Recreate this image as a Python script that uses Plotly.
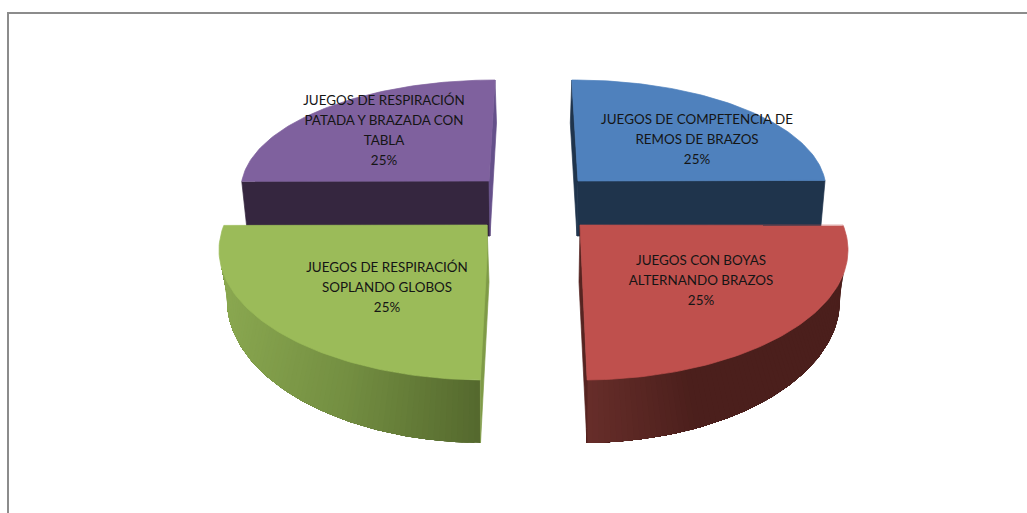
import numpy as np
import plotly.graph_objects as go

# ---------- data ----------
categories = [
    "JUEGOS DE COMPETENCIA DE REMOS DE BRAZOS",
    "JUEGOS CON BOYAS ALTERNANDO BRAZOS",
    "JUEGOS DE RESPIRACIÓN SOPLANDO GLOBOS",
    "JUEGOS DE RESPIRACIÓN PATADA Y BRAZADA CON TABLA",
]
label_lines = [
    ["JUEGOS DE COMPETENCIA DE", "REMOS DE BRAZOS"],
    ["JUEGOS CON BOYAS", "ALTERNANDO BRAZOS"],
    ["JUEGOS DE RESPIRACIÓN", "SOPLANDO GLOBOS"],
    ["JUEGOS DE RESPIRACIÓN", "PATADA Y BRAZADA CON", "TABLA"],
]
shares = [25, 25, 25, 25]

# ---------- drawing style: the projection of each exploded slice ----------
W, H = 1027, 513
FONT = "Lato"
FONT_SIZE = 13.4
LINE_STEP = 20
top_colors = ["#4F81BD", "#BF504D", "#9BBB59", "#7F619E"]
side_colors = ["#1F344C", "#4B1F1D", "#7F9B47", "#35263F"]
strip_colors = ["#1F344C", "#562421", "#7F9B47", "#65508A"]
start_angle = [-0.5, 79, 181, 274.5]    # clockwise from 12 o'clock
stretch = [0.95, 1.11, 1.11, 0.95]      # perspective widening of the sweep
ellipse = [(574, 190, 252, 110), (582, 250, 266, 130), (485, 250, 266, 130), (495, 190, 254, 110)]
lower = [None, (582, 300, 258, 143), (485, 300, 258, 143), None]
apex = [(578, 181), (580, 225), (487, 225), (489, 181)]
apex_low = [(577, 236), (579, 282), (489, 282), (490, 236)]
apex_knee = [None, None, (487, 258), None]
wall_depth = [(-5, 55), None, None, (6, 55)]
label_pos = [(697, 121), (701, 262), (387, 269), (384, 102)]
upper_trim = [None, (21, 0), (0, 19), None]   # degrees of the top arc hidden from the wall
lower_trim = [None, (9, 0), (0, 9), None]
grad_stops = [None,
              [(588, "#672E2A"), (690, "#4B1F1C"), (850, "#4B1F1C")],
              [(222, "#8BA951"), (350, "#748F42"), (480, "#55692E")],
              None]


def arc(e, a0, a1, n=80):
    phi = np.radians(np.linspace(a0, a1, n))
    return e[0] + e[2] * np.sin(phi), e[1] - e[3] * np.cos(phi)


def hex2rgb(h):
    return np.array([int(h[i:i + 2], 16) for i in (1, 3, 5)], float)


def grad(stops, x):
    xs = [s[0] for s in stops]
    rgb = [np.interp(x, xs, [hex2rgb(s[1])[k] for s in stops]) for k in range(3)]
    return "rgb(%d,%d,%d)" % tuple(rgb)


def poly(fig, x, y, color, edge=0.7):
    fig.add_trace(go.Scatter(
        x=list(x), y=list(y), mode="lines", fill="toself", fillcolor=color,
        line=dict(color=color, width=edge), hoverinfo="skip", showlegend=False))


fig = go.Figure()
order = [3, 0, 2, 1]  # back slices first, the front slices overlap them
sweeps = [s / sum(shares) * 360 * k for s, k in zip(shares, stretch)]

for i in order:
    e = ellipse[i]
    a0, a1 = start_angle[i], start_angle[i] + sweeps[i]
    ax, ay = apex[i]
    lx, ly = apex_low[i]
    ux, uy = arc(e, a0, a1)

    if lower[i] is None:
        # back slices: flat cut face plus the thin radial sliver
        end = a1 if i == 0 else a0
        other = a0 if i == 0 else a1
        ex, ey = arc(e, end, end, 1)
        ox, oy = arc(e, other, other, 1)
        dx, dy = wall_depth[i]
        poly(fig, [ax, ex[0], ex[0] + dx, lx, ax], [ay, ey[0], ey[0] + dy, ly, ay], side_colors[i])
        bulge = 1 if i == 3 else -1
        poly(fig,
             [ox[0], ox[0] + bulge * 1.5, lx, ax, ox[0]],
             [oy[0], oy[0] + 43, ly, ay, oy[0]], strip_colors[i])
    else:
        # front slices: curved outer wall, shaded across its width; every band
        # runs on to the far end so that no seam shows between neighbours
        n = 70
        ut, lt = upper_trim[i], lower_trim[i]
        wx_u, wy_u = arc(e, a0 + ut[0], a1 - ut[1], n)
        wx_l, wy_l = arc(lower[i], a0 + lt[0], a1 - lt[1], n)
        for k in range(n - 1):
            col = grad(grad_stops[i], (wx_u[k] + wx_u[k + 1]) / 2)
            poly(fig,
                 [*wx_u[k:], *wx_l[k:][::-1], wx_u[k]],
                 [*wy_u[k:], *wy_l[k:][::-1], wy_u[k]], col, edge=0)
        # radial sliver beside the exploded apex
        tip = a1 if i == 1 else a0
        tx, ty = arc(e, tip, tip, 1)
        qx, qy = arc(lower[i], tip, tip, 1)
        poly(fig, [ax, lx, qx[0], tx[0], ax], [ay, ly, qy[0], ty[0], ay], strip_colors[i])

    knee = apex_knee[i]
    if knee is None:
        poly(fig, [ax, *ux, ax], [ay, *uy, ay], top_colors[i])
    else:
        # arc runs from the tip beside the knee round to the far end
        poly(fig, [ax, knee[0], *ux, ax], [ay, knee[1], *uy, ay], top_colors[i])

# ---------- labels ----------
for i in range(len(categories)):
    tx, ty = label_pos[i]
    lines = label_lines[i] + [f"{shares[i] / sum(shares):.0%}"]
    fig.add_trace(go.Scatter(
        x=[tx] * len(lines), y=[ty + n * LINE_STEP for n in range(len(lines))],
        mode="text", text=lines, textposition="middle center",
        textfont=dict(family=FONT, size=FONT_SIZE, color="#151515"),
        hoverinfo="skip", showlegend=False))

# ---------- chart frame ----------
fig.add_shape(type="rect", x0=8, y0=13, x1=W + 20, y1=H + 20,
              line=dict(color="#8C8C8C", width=2), fillcolor="rgba(0,0,0,0)", layer="below")

fig.update_layout(
    width=W, height=H, margin=dict(l=0, r=0, t=0, b=0),
    paper_bgcolor="white", plot_bgcolor="white", showlegend=False,
    xaxis=dict(range=[0, W], visible=False, fixedrange=True),
    yaxis=dict(range=[H, 0], visible=False, fixedrange=True),
)
fig.write_html("out.html", post_script="document.body.style.margin='0';",
               config={"displayModeBar": False})
